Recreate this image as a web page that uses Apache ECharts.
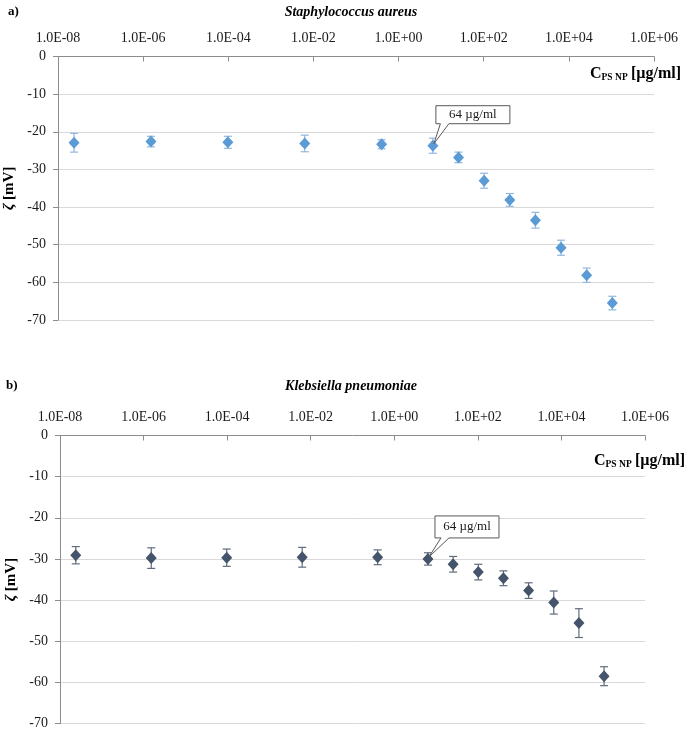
<!DOCTYPE html>
<html>
<head>
<meta charset="utf-8">
<script src="https://cdn.jsdelivr.net/npm/echarts@6/dist/echarts.min.js"></script>
<style>html,body{margin:0;padding:0;background:#fff}#c{width:685px;height:729px}</style>
</head>
<body>
<div id="c"></div>
<script>
// concentrations (µg/ml, as plotted on the log axis)
const concentrations = [2.384e-8, 1.526e-6, 9.766e-5, 0.00625, 0.4, 6.4, 25.6, 102.4, 409.6, 1638.4, 6553.6, 26214.4, 104857.6];
// a) Staphylococcus aureus
const zetaSA = [-22.9, -22.6, -22.8, -23.1, -23.3, -23.7, -26.8, -33.0, -38.1, -43.5, -50.8, -58.1, -65.5];
const errSA  = [2.5, 1.4, 1.6, 2.2, 1.2, 2.0, 1.4, 2.0, 1.7, 2.1, 2.0, 1.9, 1.8];
// b) Klebsiella pneumoniae
const zetaKP = [-29.1, -29.8, -29.7, -29.6, -29.6, -30.0, -31.3, -33.2, -34.7, -37.7, -40.6, -45.6, -58.5];
const errKP  = [2.1, 2.5, 2.1, 2.4, 1.8, 1.5, 1.9, 1.9, 1.8, 1.9, 2.8, 3.5, 2.3];
// tick labels of the log axis (every 2 decades from 1e-8)
const xTickLabels = ['1.0E-08','1.0E-06','1.0E-04','1.0E-02','1.0E+00','1.0E+02','1.0E+04','1.0E+06'];
const yTicks = [0, -10, -20, -30, -40, -50, -60, -70];
const annotIndex = 5;
const annotText = '64 µg/ml';

const FONT = '"Liberation Serif", "Times New Roman", serif';
const chart = echarts.init(document.getElementById('c'), null, {renderer: 'canvas'});

function xLabel(v) {
  const e = Math.round(Math.log10(v));
  const i = (e + 8) / 2;
  return xTickLabels[i] !== undefined ? xTickLabels[i] : '';
}

function xAxisCfg(gi) {
  return {
    type: 'log', logBase: 10, gridIndex: gi, position: 'top',
    min: 1e-8, max: 1e6, interval: 2,
    axisLine: {show: true, onZero: false, lineStyle: {color: '#8c8c8c', width: 1}},
    axisTick: {show: true, inside: true, length: 5, lineStyle: {color: '#8c8c8c'}},
    minorTick: {show: false},
    splitLine: {show: false},
    axisLabel: {formatter: xLabel, fontFamily: FONT, fontSize: 14, color: '#1a1a1a', margin: 11}
  };
}
function yAxisCfg(gi) {
  return {
    type: 'value', gridIndex: gi, min: yTicks[yTicks.length - 1], max: yTicks[0], interval: 10,
    axisLine: {show: true, lineStyle: {color: '#8c8c8c', width: 1}},
    axisTick: {show: true, inside: false, length: 5, lineStyle: {color: '#8c8c8c'}},
    splitLine: {show: true, lineStyle: {color: '#d9d9d9', width: 1}},
    axisLabel: {fontFamily: FONT, fontSize: 14, color: '#1a1a1a', margin: 12},
    name: '{z|ζ} {m|[mV]}', nameLocation: 'middle', nameRotate: 90, nameGap: 40,
    nameTextStyle: {
      rich: {
        z: {fontFamily: FONT, fontSize: 15, fontStyle: 'italic', fontWeight: 'bold', color: '#000'},
        m: {fontFamily: FONT, fontSize: 15, fontWeight: 'bold', color: '#000'}
      }
    }
  };
}

function errorSeries(gi, vals, errs, color) {
  return {
    type: 'custom', xAxisIndex: gi, yAxisIndex: gi, z: 2,
    data: concentrations.map((c, i) => [c, vals[i] - errs[i], vals[i] + errs[i]]),
    renderItem: function (params, api) {
      const lo = api.coord([api.value(0), api.value(1)]);
      const hi = api.coord([api.value(0), api.value(2)]);
      const w = 4;
      const st = {stroke: color, lineWidth: 1.2};
      return {type: 'group', children: [
        {type: 'line', shape: {x1: lo[0], y1: lo[1], x2: hi[0], y2: hi[1]}, style: st},
        {type: 'line', shape: {x1: lo[0] - w, y1: lo[1], x2: lo[0] + w, y2: lo[1]}, style: st},
        {type: 'line', shape: {x1: hi[0] - w, y1: hi[1], x2: hi[0] + w, y2: hi[1]}, style: st}
      ]};
    }
  };
}

function scatterSeries(gi, vals, color) {
  return {
    type: 'scatter', xAxisIndex: gi, yAxisIndex: gi, z: 3,
    symbol: 'diamond', symbolSize: [11, 12],
    itemStyle: {color: color, opacity: 1},
    data: concentrations.map((c, i) => [c, vals[i]])
  };
}

function calloutSeries(gi, vals, box) {
  return {
    type: 'custom', xAxisIndex: gi, yAxisIndex: gi, z: 5, silent: true,
    data: [[concentrations[annotIndex], vals[annotIndex]]],
    renderItem: function (params, api) {
      const p = api.coord([api.value(0), api.value(1)]);
      const L = p[0] + box.dx0, R = p[0] + box.dx1, T = p[1] + box.dy0, B = p[1] + box.dy1;
      const tl = p[0] + box.t0, tr = p[0] + box.t1;
      return {type: 'group', children: [
        {type: 'polygon', shape: {points: [[L, T], [R, T], [R, B], [tr, B], [p[0] + 1, p[1] - 2], [tl, B], [L, B]]},
          style: {fill: '#fff', stroke: '#595959', lineWidth: 1}},
        {type: 'text', style: {text: annotText, x: (L + R) / 2, y: (T + B) / 2, align: 'center', verticalAlign: 'middle',
          font: box.font + ' ' + FONT, fill: '#1a1a1a'}}
      ]};
    }
  };
}

const xNameRich = {
  c: {fontFamily: FONT, fontSize: 16, fontWeight: 'bold', fill: '#000', color: '#000'},
  s: {fontFamily: FONT, fontSize: 9.5, fontWeight: 'bold', fill: '#000', color: '#000', padding: [7, 0, 0, 0]}
};

chart.setOption({
  animation: false,
  backgroundColor: '#fff',
  title: [
    {text: 'a)', left: 3, top: 0, textStyle: {fontFamily: FONT, fontSize: 13, fontWeight: 'bold', color: '#000'}},
    {text: 'Staphylococcus aureus', left: 346, top: 0, textAlign: 'center',
      textStyle: {fontFamily: FONT, fontSize: 14, fontWeight: 'bold', fontStyle: 'italic', color: '#000'}},
    {text: 'b)', left: 1, top: 374, textStyle: {fontFamily: FONT, fontSize: 13, fontWeight: 'bold', color: '#000'}},
    {text: 'Klebsiella pneumoniae', left: 346, top: 374, textAlign: 'center',
      textStyle: {fontFamily: FONT, fontSize: 14, fontWeight: 'bold', fontStyle: 'italic', color: '#000'}}
  ],
  graphic: [
    {type: 'text', left: 590, top: 66, style: {text: '{c|C}{s|PS NP} {c|[µg/ml]}', rich: xNameRich}},
    {type: 'text', left: 594, top: 453, style: {text: '{c|C}{s|PS NP} {c|[µg/ml]}', rich: xNameRich}}
  ],
  grid: [
    {left: 58, right: 31, top: 56.5, height: 263.5, containLabel: false, outerBoundsMode: 'none'},
    {left: 60, right: 40, top: 435.5, height: 288, containLabel: false, outerBoundsMode: 'none'}
  ],
  xAxis: [xAxisCfg(0), xAxisCfg(1)],
  yAxis: [yAxisCfg(0), yAxisCfg(1)],
  series: [
    errorSeries(0, zetaSA, errSA, '#8fb7e0'),
    scatterSeries(0, zetaSA, '#5b9bd5'),
    calloutSeries(0, zetaSA, {dx0: 3, dx1: 77, dy0: -40, dy1: -22, t0: 7.5, t1: 16, font: '13px'}),
    errorSeries(1, zetaKP, errKP, '#5f6b7d'),
    scatterSeries(1, zetaKP, '#44546a'),
    calloutSeries(1, zetaKP, {dx0: 7, dx1: 71, dy0: -43, dy1: -21, t0: 13, t1: 21, font: '13px'})
  ]
});
</script>
</body>
</html>
